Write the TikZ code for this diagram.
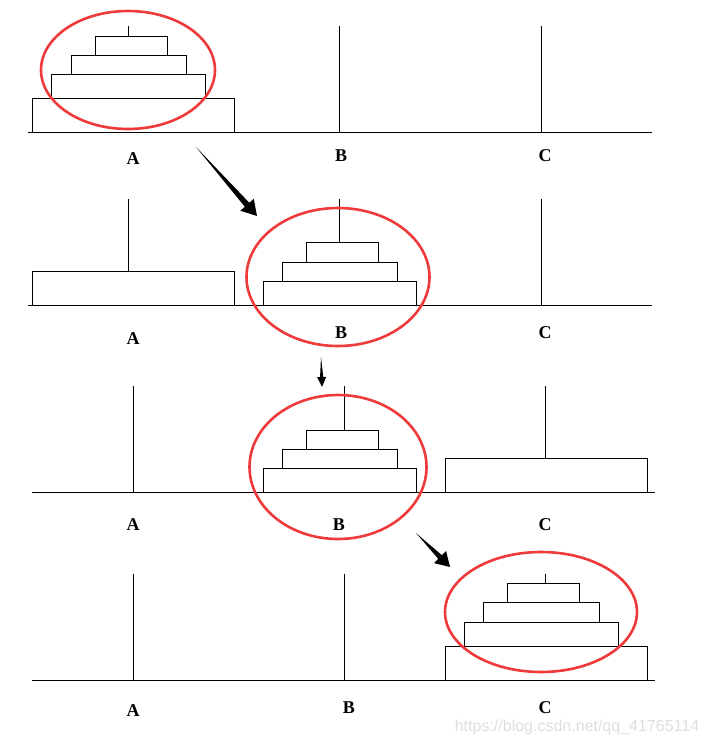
\documentclass[tikz,border=0pt]{standalone}
\usepackage{fontspec}
\setmainfont{Liberation Serif}
\setsansfont{Liberation Sans}
\usetikzlibrary{arrows.meta,calc,positioning}
\definecolor{ringred}{RGB}{238,58,58}
\definecolor{markgray}{RGB}{222,222,222}

\begin{document}
\begin{tikzpicture}[x=1pt,y=-1pt,line width=1pt,>=Latex,
  disk/.style={draw=black,fill=white,line width=1pt},
  ring/.style={draw=ringred,line width=2.6pt},
  pegname/.style={font=\bfseries\fontsize{18}{18}\selectfont,inner sep=0pt}]
 \useasboundingbox (0,0) rectangle (708,745);
 % row 1: all disks on A
 \draw (28,132) -- (652,132);
 \foreach \x in {128,339,541} \draw (\x,132) -- (\x,26);
 \draw[disk] (32,98) rectangle (234,132);
 \draw[disk] (51,74) rectangle (205,98);
 \draw[disk] (71,55) rectangle (186,74);
 \draw[disk] (95,36) rectangle (167,55);
 \draw[ring] (128,70) ellipse [x radius=87,y radius=59];
 \node[pegname] (a1) at (133,159) {A};
 \node[pegname] (b1) at (341,156) {B};
 \node[pegname] (c1) at (545,156) {C};
 % row 2: three disks on B
 \draw (28,305) -- (652,305);
 \foreach \x in {128,339,541} \draw (\x,305) -- (\x,199);
 \draw[disk] (32,271) rectangle (234,305);
 \draw[disk] (263,281) rectangle (416,305);
 \draw[disk] (282,262) rectangle (397,281);
 \draw[disk] (306,242) rectangle (378,262);
 \draw[ring] (338,277) ellipse [x radius=91.5,y radius=69];
 \node[pegname] (a2) at (133,339) {A};
 \node[pegname] (b2) at (341,333) {B};
 \node[pegname] (c2) at (545,333) {C};
 % row 3: largest disk on C
 \draw (32,492) -- (655,492);
 \foreach \x in {133,344,545} \draw (\x,492) -- (\x,386);
 \draw[disk] (263,468) rectangle (416,492);
 \draw[disk] (282,449) rectangle (397,468);
 \draw[disk] (306,430) rectangle (378,449);
 \draw[disk] (445,458) rectangle (647,492);
 \draw[ring] (338,467) ellipse [x radius=88.5,y radius=72];
 \node[pegname] (a3) at (133,525) {A};
 \node[pegname] (b3) at (339,525) {B};
 \node[pegname] (c3) at (545,525) {C};
 % row 4: all disks on C
 \draw (32,680) -- (655,680);
 \foreach \x in {133,344,545} \draw (\x,680) -- (\x,574);
 \draw[disk] (445,646) rectangle (647,680);
 \draw[disk] (464,622) rectangle (618,646);
 \draw[disk] (483,602) rectangle (599,622);
 \draw[disk] (507,583) rectangle (579,602);
 \draw[ring] (541,612) ellipse [x radius=96,y radius=60];
 \node[pegname] (a4) at (133,711) {A};
 \node[pegname] (b4) at (349,708) {B};
 \node[pegname] (c4) at (545,708) {C};
 % moves (tapered arrows)
 \coordinate (m1s) at (196,147);
 \coordinate (m1e) at (257,216);
 \coordinate (m2s) at (321,357);
 \coordinate (m2e) at (322,387);
 \coordinate (m3s) at (416,533);
 \coordinate (m3e) at (450,567);
 \foreach \s/\e/\l/\w/\t in {m1s/m1e/15/9/3,m2s/m2e/10/4.5/1.6,m3s/m3e/14/8.5/2.6}{
    \coordinate (h) at ($(\e)!\l pt!(\s)$);
    \fill (\s) -- ($(h)!\t pt!90:(\e)$) -- ($(h)!\w pt!90:(\e)$) -- (\e)
      -- ($(h)!\w pt!-90:(\e)$) -- ($(h)!\t pt!-90:(\e)$) -- cycle;
 }
 \node[font=\sffamily\fontsize{16}{16}\selectfont,text=markgray] (mark)
   at (577,727) {https://blog.csdn.net/qq\_41765114};
\end{tikzpicture}
\end{document}
